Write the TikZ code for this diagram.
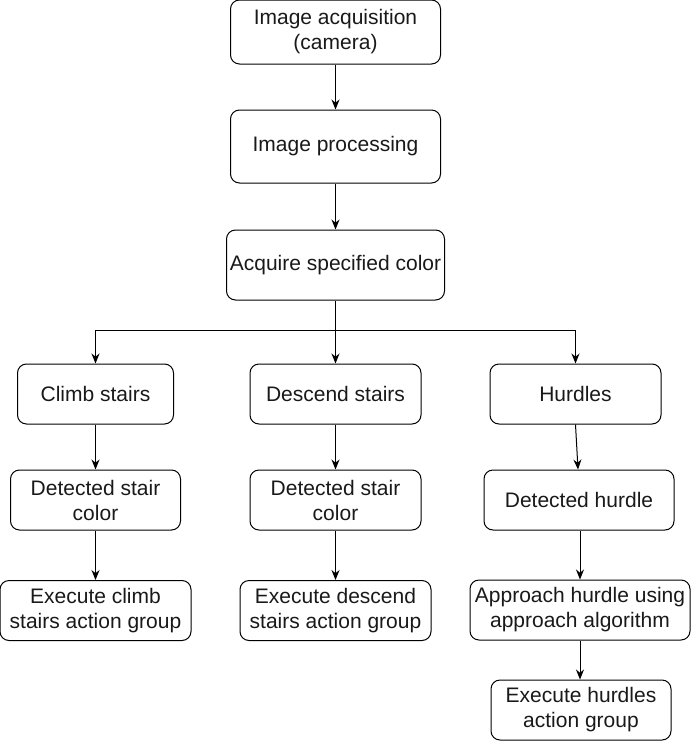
\documentclass[tikz,border=0pt]{standalone}
\usepackage{fontspec}
\setmainfont{Liberation Sans}
\usetikzlibrary{arrows.meta}

\begin{document}
\begin{tikzpicture}[x=1pt,y=-1pt,line width=1pt,
  >={Stealth[length=10pt,width=8pt]},
  box/.style={draw,rounded corners=9pt,align=center,inner sep=0pt,
    minimum height=60pt,font=\fontsize{21}{25}\selectfont,text=black!90}]
  \useasboundingbox (0,0) rectangle (692,742);
  % main chain
  \node[box,minimum width=210pt,minimum height=64pt] (acq) at (335.5,32) {Image acquisition\\(camera)};
  \node[box,minimum width=210pt,minimum height=73pt] (proc) at (335.5,146.5) {Image processing};
  \node[box,minimum width=218pt,minimum height=70pt] (color) at (335.5,265) {Acquire specified color};
  % branches
  \node[box,minimum width=156pt] (climb) at (95.5,394) {Climb stairs};
  \node[box,minimum width=171pt] (descend) at (335.5,394) {Descend stairs};
  \node[box,minimum width=171pt] (hurdles) at (575.5,394) {Hurdles};
  \node[box,minimum width=170pt] (detclimb) at (95.5,500) {Detected stair\\color};
  \node[box,minimum width=171pt] (detdescend) at (335.5,500) {Detected stair\\color};
  \node[box,minimum width=190pt] (dethurdle) at (579,500) {Detected hurdle};
  \node[box,minimum width=191pt] (execlimb) at (95.5,610.5) {Execute climb\\stairs action group};
  \node[box,minimum width=191pt] (exedescend) at (335.5,610.5) {Execute descend\\stairs action group};
  \node[box,minimum width=220pt] (approach) at (580,610) {Approach hurdle using\\approach algorithm};
  \node[box,minimum width=180pt] (exehurdle) at (581,710) {Execute hurdles\\action group};
  \coordinate (split) at (335.5,330);

  \draw[->] (acq) -- (proc);
  \draw[->] (proc) -- (color);
  \draw (color) -- (split);
  \draw[->] (split) -| (climb);
  \draw[->] (split) -- (descend);
  \draw[->] (split) -| (hurdles);
  \draw[->] (climb) -- (detclimb);
  \draw[->] (descend) -- (detdescend);
  \draw[->] (hurdles.south) -- (dethurdle.north -| 578,0);
  \draw[->] (detclimb) -- (execlimb);
  \draw[->] (detdescend) -- (exedescend);
  \draw[->] (dethurdle.south -| 580,0) -- (approach.north);
  \draw[->] (approach.south) -- (exehurdle.north -| 580,0);
\end{tikzpicture}
\end{document}
